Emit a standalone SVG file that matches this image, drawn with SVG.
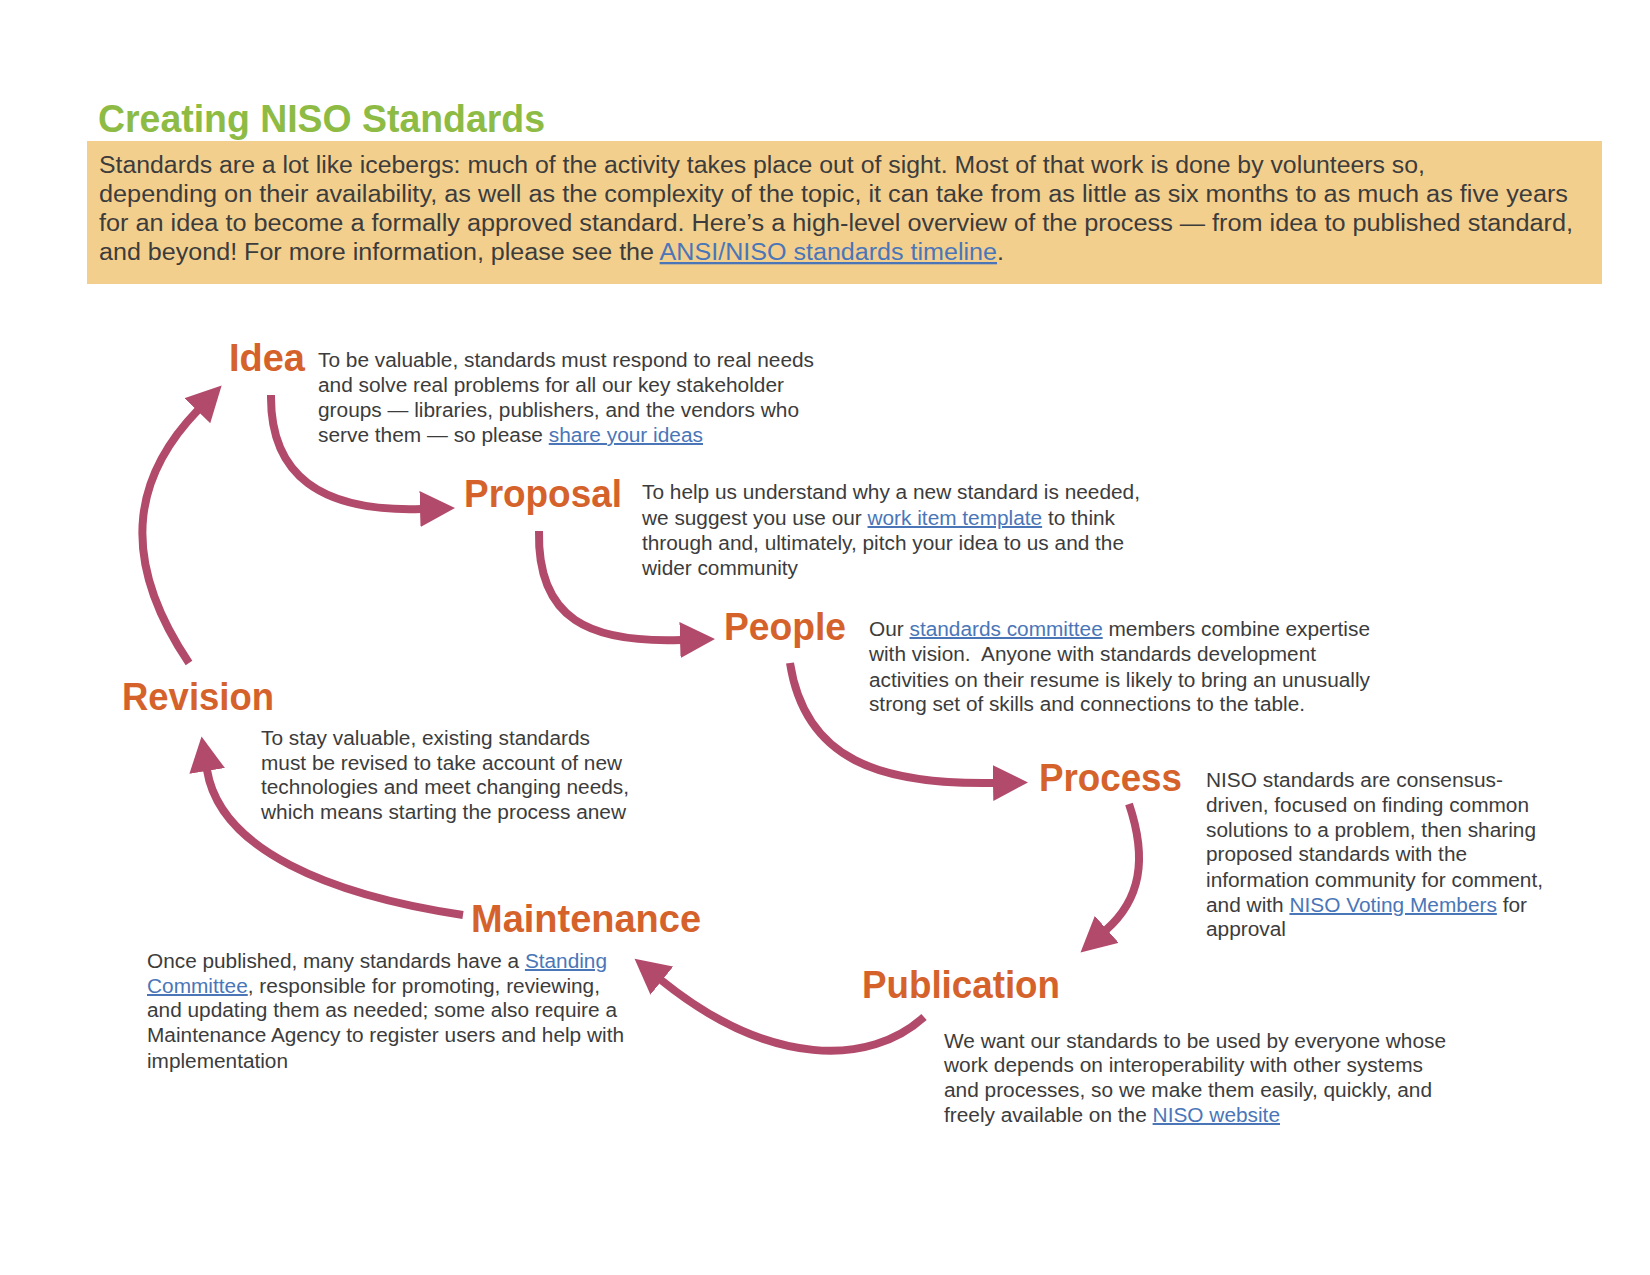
<svg xmlns="http://www.w3.org/2000/svg" width="1650" height="1275" viewBox="0 0 1650 1275">
<style>
.title{font-family:"Liberation Sans",Arial,sans-serif;font-weight:bold;font-size:38px;fill:#8dbb44}
.hdr{font-family:"Liberation Sans",Arial,sans-serif;font-size:23px;fill:#3c3c3c}
.lbl{font-family:"Liberation Sans",Arial,sans-serif;font-weight:bold;font-size:38px;fill:#d5622b}
.dsc{font-family:"Liberation Sans",Arial,sans-serif;font-size:20px;fill:#3c3c3c}
.lnk{fill:#4a76b8;text-decoration:underline}
.arr{fill:none;stroke:#b24a6b;stroke-width:8;marker-end:url(#head)}
</style>
<defs>
<marker id="head" markerUnits="userSpaceOnUse" markerWidth="36" markerHeight="36" viewBox="0 0 36 36" refX="1" refY="18" orient="auto">
<path d="M0,0 L35,18 L0,36 z" fill="#b24a6b"/>
</marker>
</defs>
<rect width="1650" height="1275" fill="#ffffff"/>
<g id="header">
<text class="title" x="98" y="132" textLength="447" lengthAdjust="spacingAndGlyphs">Creating NISO Standards</text>
<rect x="87" y="141" width="1515" height="143" fill="#f3cf8e"/>
<text class="hdr" x="99" y="173" textLength="1326" lengthAdjust="spacingAndGlyphs">Standards are a lot like icebergs: much of the activity takes place out of sight. Most of that work is done by volunteers so,</text>
<text class="hdr" x="99" y="202" textLength="1469" lengthAdjust="spacingAndGlyphs">depending on their availability, as well as the complexity of the topic, it can take from as little as six months to as much as five years</text>
<text class="hdr" x="99" y="231" textLength="1474" lengthAdjust="spacingAndGlyphs">for an idea to become a formally approved standard. Here’s a high-level overview of the process — from idea to published standard,</text>
<text class="hdr" x="99" y="260" textLength="905" lengthAdjust="spacingAndGlyphs">and beyond! For more information, please see the <tspan class="lnk">ANSI/NISO standards timeline</tspan>.</text>
</g>
<g id="connectors">
<path class="arr" d="M 271,395 C 270,475 320,512 421,509"/>
<path class="arr" d="M 539,531 C 537,620 590,643 681,640"/>
<path class="arr" d="M 790,663 C 805,760 880,785 994,783"/>
<path class="arr" d="M 1129,804 C 1148,860 1140,900 1106,930"/>
<path class="arr" d="M 924,1017 C 870,1066 770,1068 661,980"/>
<path class="arr" d="M 463,915 C 330,895 220,850 207,770"/>
<path class="arr" d="M 189,663 C 113,550 140,470 198,410"/>
</g>
<g id="idea">
<text class="lbl" x="229" y="371" textLength="76" lengthAdjust="spacingAndGlyphs">Idea</text>
<text class="dsc" x="318" y="367" textLength="496" lengthAdjust="spacingAndGlyphs">To be valuable, standards must respond to real needs</text>
<text class="dsc" x="318" y="392" textLength="466" lengthAdjust="spacingAndGlyphs">and solve real problems for all our key stakeholder</text>
<text class="dsc" x="318" y="417" textLength="481" lengthAdjust="spacingAndGlyphs">groups — libraries, publishers, and the vendors who</text>
<text class="dsc" x="318" y="442" textLength="385" lengthAdjust="spacingAndGlyphs">serve them — so please <tspan class="lnk">share your ideas</tspan></text>
</g>
<g id="proposal">
<text class="lbl" x="464" y="507" textLength="158" lengthAdjust="spacingAndGlyphs">Proposal</text>
<text class="dsc" x="642" y="499" textLength="498" lengthAdjust="spacingAndGlyphs">To help us understand why a new standard is needed,</text>
<text class="dsc" x="642" y="525" textLength="473" lengthAdjust="spacingAndGlyphs">we suggest you use our <tspan class="lnk">work item template</tspan> to think</text>
<text class="dsc" x="642" y="550" textLength="482" lengthAdjust="spacingAndGlyphs">through and, ultimately, pitch your idea to us and the</text>
<text class="dsc" x="642" y="575" textLength="156" lengthAdjust="spacingAndGlyphs">wider community</text>
</g>
<g id="people">
<text class="lbl" x="724" y="640" textLength="122" lengthAdjust="spacingAndGlyphs">People</text>
<text class="dsc" x="869" y="636" textLength="501" lengthAdjust="spacingAndGlyphs">Our <tspan class="lnk">standards committee</tspan> members combine expertise</text>
<text class="dsc" x="869" y="661" textLength="447" lengthAdjust="spacingAndGlyphs" style="white-space:pre">with vision.  Anyone with standards development</text>
<text class="dsc" x="869" y="687" textLength="501" lengthAdjust="spacingAndGlyphs">activities on their resume is likely to bring an unusually</text>
<text class="dsc" x="869" y="711" textLength="436" lengthAdjust="spacingAndGlyphs">strong set of skills and connections to the table.</text>
</g>
<g id="process">
<text class="lbl" x="1039" y="791" textLength="143" lengthAdjust="spacingAndGlyphs">Process</text>
<text class="dsc" x="1206" y="787" textLength="297" lengthAdjust="spacingAndGlyphs">NISO standards are consensus-</text>
<text class="dsc" x="1206" y="812" textLength="323" lengthAdjust="spacingAndGlyphs">driven, focused on finding common</text>
<text class="dsc" x="1206" y="837" textLength="330" lengthAdjust="spacingAndGlyphs">solutions to a problem, then sharing</text>
<text class="dsc" x="1206" y="861" textLength="261" lengthAdjust="spacingAndGlyphs">proposed standards with the</text>
<text class="dsc" x="1206" y="887" textLength="337" lengthAdjust="spacingAndGlyphs">information community for comment,</text>
<text class="dsc" x="1206" y="912" textLength="321" lengthAdjust="spacingAndGlyphs">and with <tspan class="lnk">NISO Voting Members</tspan> for</text>
<text class="dsc" x="1206" y="936" textLength="80" lengthAdjust="spacingAndGlyphs">approval</text>
</g>
<g id="revision">
<text class="lbl" x="122" y="710" textLength="152" lengthAdjust="spacingAndGlyphs">Revision</text>
<text class="dsc" x="261" y="745" textLength="329" lengthAdjust="spacingAndGlyphs">To stay valuable, existing standards</text>
<text class="dsc" x="261" y="770" textLength="361" lengthAdjust="spacingAndGlyphs">must be revised to take account of new</text>
<text class="dsc" x="261" y="794" textLength="368" lengthAdjust="spacingAndGlyphs">technologies and meet changing needs,</text>
<text class="dsc" x="261" y="819" textLength="365" lengthAdjust="spacingAndGlyphs">which means starting the process anew</text>
</g>
<g id="maintenance">
<text class="lbl" x="471" y="932" textLength="230" lengthAdjust="spacingAndGlyphs">Maintenance</text>
<text class="dsc" x="147" y="968" textLength="460" lengthAdjust="spacingAndGlyphs">Once published, many standards have a <tspan class="lnk">Standing</tspan></text>
<text class="dsc" x="147" y="993" textLength="453" lengthAdjust="spacingAndGlyphs"><tspan class="lnk">Committee</tspan>, responsible for promoting, reviewing,</text>
<text class="dsc" x="147" y="1017" textLength="470" lengthAdjust="spacingAndGlyphs">and updating them as needed; some also require a</text>
<text class="dsc" x="147" y="1042" textLength="477" lengthAdjust="spacingAndGlyphs">Maintenance Agency to register users and help with</text>
<text class="dsc" x="147" y="1068" textLength="141" lengthAdjust="spacingAndGlyphs">implementation</text>
</g>
<g id="publication">
<text class="lbl" x="862" y="998" textLength="198" lengthAdjust="spacingAndGlyphs">Publication</text>
<text class="dsc" x="944" y="1048" textLength="502" lengthAdjust="spacingAndGlyphs">We want our standards to be used by everyone whose</text>
<text class="dsc" x="944" y="1072" textLength="479" lengthAdjust="spacingAndGlyphs">work depends on interoperability with other systems</text>
<text class="dsc" x="944" y="1097" textLength="488" lengthAdjust="spacingAndGlyphs">and processes, so we make them easily, quickly, and</text>
<text class="dsc" x="944" y="1122" textLength="336" lengthAdjust="spacingAndGlyphs">freely available on the <tspan class="lnk">NISO website</tspan></text>
</g>
</svg>
